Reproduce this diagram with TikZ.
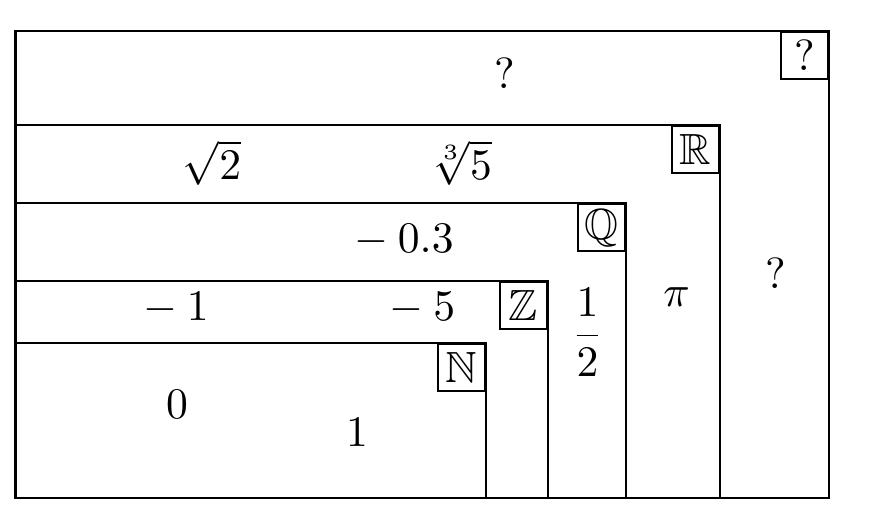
\documentclass[tikz,border=0pt]{standalone}
\usepackage{amsmath,amssymb}
\usetikzlibrary{positioning}

\tikzset{
  setlabel/.style={draw, fill=white, anchor=north east, minimum size=0.38cm, inner sep=0pt}
}

\begin{document}
\begin{tikzpicture}[line width=0.5pt]
  \useasboundingbox (0cm,0cm) rectangle (7cm,4.277cm);
  % nested sets, all sharing the lower left corner
  \filldraw[fill=white] (0.125cm,0.266cm) rectangle (6.678cm,4.028cm);
  \filldraw[fill=white] (0.125cm,0.266cm) rectangle (5.800cm,3.271cm);
  \filldraw[fill=white] (0.125cm,0.266cm) rectangle (5.043cm,2.642cm);
  \filldraw[fill=white] (0.125cm,0.266cm) rectangle (4.414cm,2.014cm);
  \filldraw[fill=white] (0.125cm,0.266cm) rectangle (3.915cm,1.514cm);
  % set names
  \node[setlabel] (cpx) at (6.678cm,4.028cm) {?};
  \node[setlabel] (real) at (5.800cm,3.271cm) {$\mathbb{R}$};
  \node[setlabel] (rat) at (5.043cm,2.642cm) {$\mathbb{Q}$};
  \node[setlabel] (int) at (4.414cm,2.014cm) {$\mathbb{Z}$};
  \node[setlabel] (nat) at (3.915cm,1.514cm) {$\mathbb{N}$};
  % elements
  \node (qtop) at (4.068cm,3.685cm) {?};
  \node (qright) at (6.247cm,2.078cm) {?};
  \node (sqrttwo) at (1.708cm,2.964cm) {$\sqrt{2}$};
  \node (cbrtfive) at (3.718cm,2.964cm) {$\sqrt[3]{5}$};
  \node (pival) at (5.450cm,1.881cm) {$\pi$};
  \node (mpointthree) at (3.254cm,2.344cm) {$-\:0.3$};
  \node (half) at (4.733cm,1.599cm) {$\dfrac{1}{2}$};
  \node (mone) at (1.418cm,1.792cm) {$-\:1$};
  \node (mfive) at (3.403cm,1.792cm) {$-\:5$};
  \node (zero) at (1.426cm,1.023cm) {$0$};
  \node (one) at (2.876cm,0.797cm) {$1$};
\end{tikzpicture}
\end{document}
